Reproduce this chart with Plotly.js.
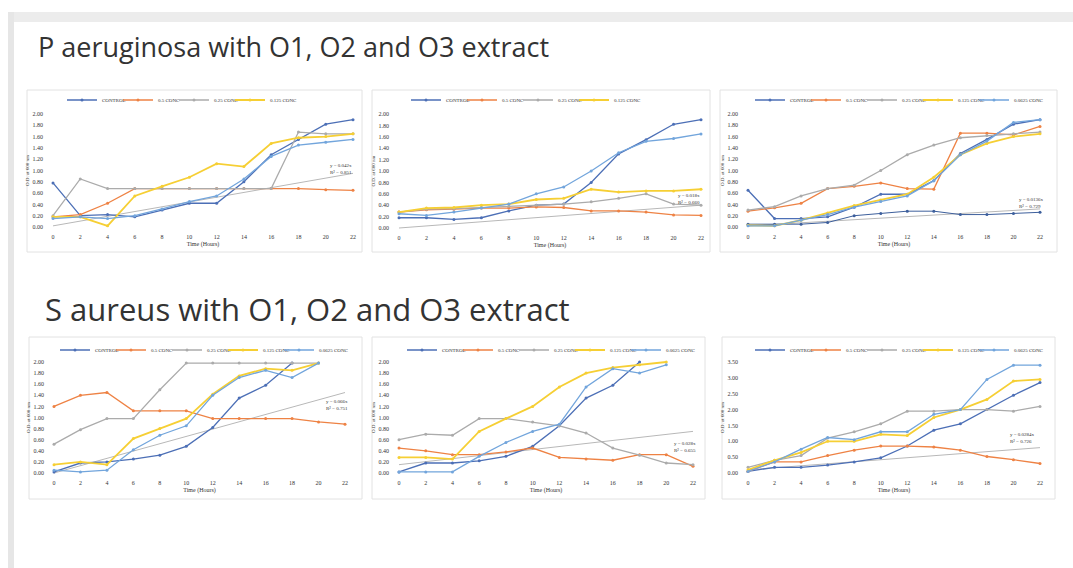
<!DOCTYPE html>
<html><head><meta charset="utf-8">
<script src="https://cdn.plot.ly/plotly-3.0.1.min.js"></script>
<style>html,body{margin:0;padding:0;background:#fff}#chart{width:1073px;height:568px}</style>
</head><body><div id="chart"></div>
<script>
// ---------- data ----------
const hours = [0,2,4,6,8,10,12,14,16,18,20,22];
const trendHours = [0,22];
const hourLabels = ["0","2","4","6","8","10","12","14","16","18","20","22"];
const seriesNames = ["CONTROL","0.5 CONC","0.25 CONC","0.125 CONC","0.0625 CONC"];
const titleTop = "P aeruginosa with O1, O2 and O3 extract";
const titleBottom = "S aureus with O1, O2 and O3 extract";
const xTitle = "Time (Hours)";
const yTitle = "O.D. at 600 nm";

// P aeruginosa, O1
const p1_control = [0.78,0.20,0.22,0.18,0.30,0.42,0.42,0.80,1.28,1.55,1.82,1.90];
const p1_c05     = [0.18,0.22,0.42,0.68,0.68,0.68,0.68,0.68,0.68,0.68,0.66,0.65];
const p1_c025    = [0.20,0.85,0.68,0.68,0.68,0.68,0.68,0.68,0.68,1.68,1.65,1.65];
const p1_c0125   = [0.18,0.18,0.02,0.55,0.72,0.88,1.12,1.07,1.48,1.58,1.60,1.65];
const p1_c00625  = [0.15,0.18,0.15,0.20,0.32,0.45,0.55,0.85,1.25,1.45,1.50,1.55];
const p1_trend   = [0.02,0.95];
// P aeruginosa, O2
const p2_control = [0.18,0.18,0.15,0.18,0.30,0.40,0.42,0.80,1.30,1.55,1.82,1.90];
const p2_c05     = [0.28,0.32,0.33,0.35,0.35,0.37,0.36,0.30,0.30,0.28,0.23,0.22];
const p2_c025    = [0.28,0.33,0.34,0.36,0.38,0.40,0.42,0.46,0.52,0.60,0.42,0.40];
const p2_c0125   = [0.28,0.35,0.36,0.40,0.42,0.50,0.52,0.68,0.63,0.65,0.65,0.68];
const p2_c00625  = [0.25,0.22,0.28,0.35,0.42,0.60,0.72,1.00,1.32,1.52,1.57,1.65];
const p2_trend   = [0.00,0.40];
// P aeruginosa, O3
const p3_control = [0.65,0.15,0.15,0.18,0.35,0.58,0.58,0.82,1.30,1.55,1.82,1.90];
const p3_c05     = [0.28,0.34,0.42,0.68,0.72,0.78,0.68,0.67,1.66,1.66,1.63,1.78];
const p3_c025    = [0.30,0.36,0.55,0.68,0.74,1.00,1.28,1.45,1.58,1.62,1.65,1.68];
const p3_c0125   = [0.03,0.02,0.12,0.25,0.38,0.48,0.58,0.88,1.28,1.48,1.60,1.65];
const p3_c00625  = [0.02,0.02,0.12,0.22,0.35,0.45,0.55,0.82,1.28,1.52,1.85,1.90];
const p3_extra   = [0.05,0.05,0.05,0.08,0.20,0.24,0.28,0.28,0.22,0.22,0.24,0.26];
const p3_trend   = [0.02,0.32];
// S aureus, O1
const p4_control = [0.02,0.18,0.20,0.25,0.32,0.48,0.82,1.35,1.58,1.98];
const p4_c05     = [1.20,1.40,1.45,1.12,1.12,1.12,0.98,0.98,0.98,0.98,0.92,0.88];
const p4_c025    = [0.52,0.78,0.98,0.98,1.50,1.98,1.98,1.98,1.98,1.98,1.98];
const p4_c0125   = [0.15,0.20,0.15,0.62,0.80,0.98,1.42,1.75,1.88,1.85,1.98];
const p4_c00625  = [0.05,0.02,0.05,0.42,0.68,0.85,1.40,1.72,1.85,1.72,1.98];
const p4_trend   = [0.00,1.45];
// S aureus, O2
const p5_control = [0.02,0.18,0.18,0.22,0.30,0.48,0.85,1.35,1.58,2.00];
const p5_c05     = [0.45,0.40,0.33,0.33,0.38,0.45,0.28,0.25,0.23,0.33,0.33,0.12];
const p5_c025    = [0.60,0.70,0.68,0.98,0.98,0.92,0.85,0.72,0.45,0.32,0.18,0.15];
const p5_c0125   = [0.28,0.28,0.25,0.75,0.98,1.20,1.55,1.80,1.90,1.95,2.00];
const p5_c00625  = [0.02,0.02,0.02,0.30,0.55,0.75,0.88,1.55,1.88,1.80,1.95];
const p5_trend   = [0.15,0.75];
// S aureus, O3
const p6_control = [0.05,0.18,0.18,0.25,0.35,0.48,0.85,1.35,1.55,2.00,2.45,2.85];
const p6_c05     = [0.05,0.35,0.35,0.55,0.72,0.85,0.85,0.82,0.72,0.52,0.42,0.30];
const p6_c025    = [0.18,0.40,0.55,1.10,1.30,1.55,1.95,1.95,2.00,2.00,1.95,2.10];
const p6_c0125   = [0.10,0.40,0.65,1.00,1.00,1.22,1.18,1.75,2.00,2.32,2.90,2.95];
const p6_c00625  = [0.05,0.35,0.75,1.12,1.05,1.30,1.30,1.85,2.00,2.95,3.40,3.40];
const p6_trend   = [0.10,0.80];

const equations = [
  ["y = 0.042x","R² = 0.851"],
  ["y = 0.018x","R² = 0.660"],
  ["y = 0.0136x","R² = 0.729"],
  ["y = 0.066x","R² = 0.751"],
  ["y = 0.028x","R² = 0.655"],
  ["y = 0.0284x","R² = 0.726"]
];

// ---------- styling / geometry ----------
const W = 1073, H = 568;
const X = px => px / W;
const Y = py => 1 - py / H;
const C = {blue:'#4c6fb6', orange:'#ee8244', gray:'#ababab', yellow:'#f6cf34', lblue:'#72a5dc', navy:'#3d5f9c', trend:'#b8b8b8'};

const panels = [
  {data:[p1_control,p1_c05,p1_c025,p1_c0125,p1_c00625], extra:null, trend:p1_trend, nLeg:4,
   t0:53, t22:353, yb:227, yt:114, ymax:2, dtick:0.2, legX:62, legY:100, eqT:20.2, eqV:1.02, frame:[27,90,362,252]},
  {data:[p2_control,p2_c05,p2_c025,p2_c0125,p2_c00625], extra:null, trend:p2_trend, nLeg:4,
   t0:399, t22:701, yb:228, yt:114, ymax:2, dtick:0.2, legX:406, legY:100, eqT:20.2, eqV:0.50, frame:[372,90,710,252]},
  {data:[p3_control,p3_c05,p3_c025,p3_c0125,p3_c00625], extra:p3_extra, trend:p3_trend, nLeg:5,
   t0:748, t22:1040, yb:227, yt:114, ymax:2, dtick:0.2, legX:750, legY:100, eqT:20.3, eqV:0.42, frame:[720,90,1057,252]},
  {data:[p4_control,p4_c05,p4_c025,p4_c0125,p4_c00625], extra:null, trend:p4_trend, nLeg:5,
   t0:54, t22:345, yb:473, yt:362, ymax:2, dtick:0.2, legX:55, legY:350, eqT:20.4, eqV:1.22, frame:[29,337,362,499]},
  {data:[p5_control,p5_c05,p5_c025,p5_c0125,p5_c00625], extra:null, trend:p5_trend, nLeg:5,
   t0:399, t22:693, yb:473, yt:362, ymax:2, dtick:0.2, legX:402, legY:350, eqT:20.4, eqV:0.46, frame:[372,337,705,499]},
  {data:[p6_control,p6_c05,p6_c025,p6_c0125,p6_c00625], extra:null, trend:p6_trend, nLeg:5,
   t0:748, t22:1040, yb:473, yt:362, ymax:3.5, dtick:0.5, legX:750, legY:350, eqT:19.6, eqV:1.10, frame:[722,337,1055,499]}
];
const seriesColors = [C.blue, C.orange, C.gray, C.yellow, C.lblue];

const traces = [];
const layout = {
  width: W, height: H,
  margin: {l:0, r:0, t:0, b:0},
  paper_bgcolor: '#ffffff', plot_bgcolor: 'rgba(0,0,0,0)',
  showlegend: true,
  shapes: [
    {type:'rect', xref:'paper', yref:'paper', x0:X(8), x1:X(1073), y0:Y(12), y1:Y(22), fillcolor:'#ececec', line:{width:0}, layer:'below'},
    {type:'rect', xref:'paper', yref:'paper', x0:X(8), x1:X(14), y0:Y(12), y1:Y(568), fillcolor:'#e6e6e6', line:{width:0}, layer:'below'}
  ],
  annotations: [
    {text:titleTop, xref:'paper', yref:'paper', x:X(36), y:Y(46), xanchor:'left', yanchor:'middle', showarrow:false,
     font:{family:'Open Sans, sans-serif', size:27, color:'#333333'}},
    {text:titleBottom, xref:'paper', yref:'paper', x:X(43), y:Y(309), xanchor:'left', yanchor:'middle', showarrow:false,
     font:{family:'Open Sans, sans-serif', size:31, color:'#333333'}}
  ]
};

const tickFont = {family:'Liberation Serif, serif', size:6, color:'#333333'};

panels.forEach((p, i) => {
  const n = i + 1;
  const xa = 'x' + (n === 1 ? '' : n), ya = 'y' + (n === 1 ? '' : n);
  const xKey = 'xaxis' + (n === 1 ? '' : n), yKey = 'yaxis' + (n === 1 ? '' : n);
  const legKey = 'legend' + (n === 1 ? '' : n);
  const pad = 6;
  const sx = (p.t22 - p.t0) / 22;
  const sy = (p.yb - p.yt) / p.ymax;
  layout[xKey] = {
    domain:[X(p.t0 - pad), X(p.t22 + pad)], range:[-pad / sx, 22 + pad / sx], anchor: ya,
    tickvals: hours, ticktext: hourLabels, ticks:'', showgrid:false, zeroline:false, showline:false,
    tickfont: tickFont, ticklabelstandoff: 3,
    title:{text:xTitle, font:{family:'Liberation Serif, serif', size:6, color:'#333333'}, standoff:2}
  };
  layout[yKey] = {
    domain:[Y(p.yb + 2), Y(p.yt - 2)], range:[-2 / sy, p.ymax + 2 / sy], anchor: xa,
    dtick: p.dtick, tick0: 0, tickformat: '.2f', ticks:'', showgrid:false, zeroline:false, showline:false,
    tickfont: tickFont, ticklabelstandoff: 3,
    title:{text:yTitle, font:{family:'Liberation Serif, serif', size:5, color:'#333333'}, standoff:2}
  };
  layout[legKey] = {
    orientation:'h', x:X(p.legX), y:Y(p.legY), xanchor:'left', yanchor:'middle',
    xref:'paper', yref:'paper', bgcolor:'rgba(0,0,0,0)', borderwidth:0,
    font:{family:'Liberation Serif, serif', size:5, color:'#333333'},
    entrywidthmode:'pixels', entrywidth:11, itemwidth:30, tracegroupgap:0
  };
  layout.shapes.push({type:'rect', xref:'paper', yref:'paper',
    x0:X(p.frame[0]), x1:X(p.frame[2]), y0:Y(p.frame[3]), y1:Y(p.frame[1]),
    line:{color:'#e2e2e2', width:1}, fillcolor:'rgba(0,0,0,0)', layer:'below'});

  // trend line
  traces.push({x: trendHours, y: p.trend, xaxis: xa, yaxis: ya, mode:'lines',
    line:{color:C.trend, width:1}, showlegend:false, hoverinfo:'skip', legend: legKey});
  if (p.extra) {
    traces.push({x: hours.slice(0, p.extra.length), y: p.extra, xaxis: xa, yaxis: ya, mode:'lines+markers',
      line:{color:C.navy, width:1}, marker:{size:3, color:C.navy}, showlegend:false, legend: legKey});
  }
  p.data.forEach((ys, k) => {
    const t = {
      x: hours.slice(0, ys.length), y: ys, xaxis: xa, yaxis: ya, mode:'lines+markers',
      name: seriesNames[k], legend: legKey, showlegend: k < p.nLeg,
      line:{color: seriesColors[k], width: k === 3 ? 1.8 : 1.3},
      marker:{size:3, color: seriesColors[k]}
    };
    if (k === p.nLeg - 1) t.legendwidth = 36;
    traces.push(t);
  });
  layout.annotations.push({text: equations[i][0] + '<br>' + equations[i][1], xref: xa, yref: ya,
    x: p.eqT, y: p.eqV, xanchor:'left', yanchor:'middle', showarrow:false, align:'left',
    font:{family:'Liberation Serif, serif', size:5, color:'#333333'}});
});

Plotly.newPlot('chart', traces, layout, {staticPlot:true, displayModeBar:false});
</script></body></html>
